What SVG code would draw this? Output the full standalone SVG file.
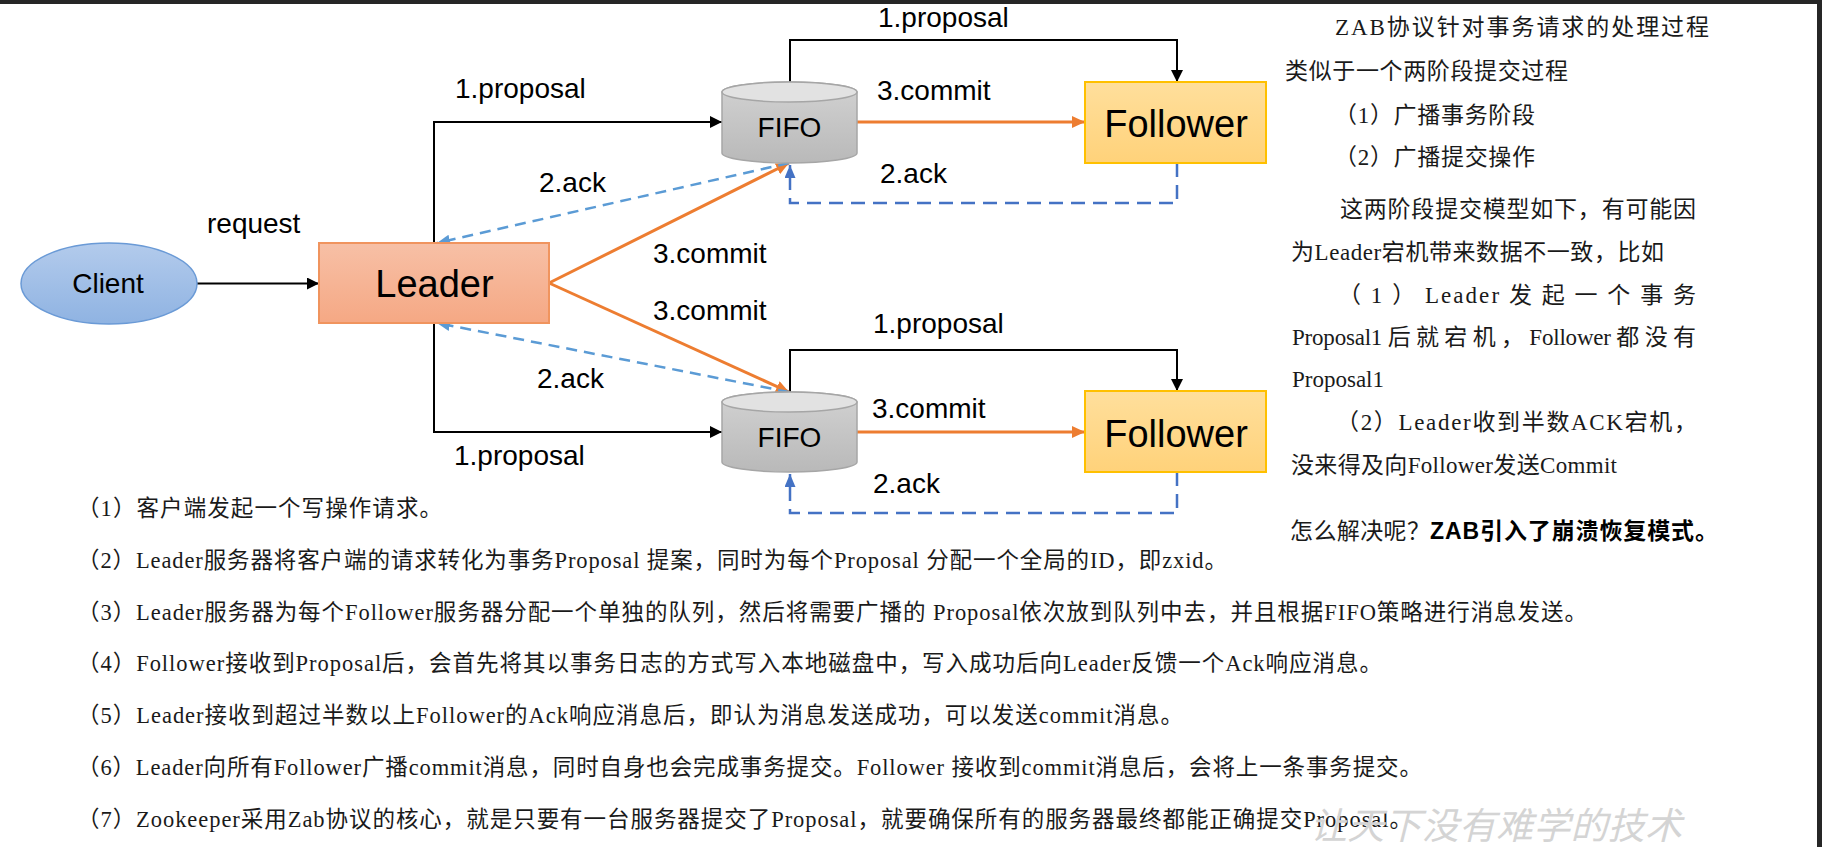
<svg xmlns="http://www.w3.org/2000/svg" width="1822" height="847" viewBox="0 0 1822 847">
<style>
.lbl{font-family:"Liberation Sans",Arial,sans-serif;font-size:28px;fill:#000}
.big{font-family:"Liberation Sans",Arial,sans-serif;font-size:38px;fill:#000}
.cn{font-family:"Liberation Serif","Noto Sans CJK SC",serif;font-size:23px;fill:#1a1a1a}
.bt{font-family:"Liberation Serif","Noto Sans CJK SC",serif;font-size:22.5px;fill:#1a1a1a}
.bold{font-family:"Liberation Sans","Noto Sans CJK SC",sans-serif;font-size:23px;font-weight:bold;fill:#000}
.blk{fill:none;stroke:#000;stroke-width:2}
.org{fill:none;stroke:#ed7d31;stroke-width:3}
.lb{fill:none;stroke:#5b9bd5;stroke-width:2.5;stroke-dasharray:11 7}
.db{fill:none;stroke:#4472c4;stroke-width:2.5;stroke-dasharray:14 8}
.cyl{fill:url(#gFifo);stroke:#a6a6a6;stroke-width:1.5}
.cylTop{fill:#e2e2e2;stroke:#a6a6a6;stroke-width:1.5}
.fol{fill:url(#gFol);stroke:#ffc000;stroke-width:2}
</style>
<defs>
<linearGradient id="gClient" x1="0" y1="0" x2="0" y2="1"><stop offset="0" stop-color="#b3cbec"/><stop offset="1" stop-color="#8fb3e2"/></linearGradient>
<linearGradient id="gLeader" x1="0" y1="0" x2="0" y2="1"><stop offset="0" stop-color="#f7c0a6"/><stop offset="1" stop-color="#f5a884"/></linearGradient>
<linearGradient id="gFol" x1="0" y1="0" x2="0" y2="1"><stop offset="0" stop-color="#ffdf9c"/><stop offset="1" stop-color="#ffd27a"/></linearGradient>
<linearGradient id="gFifo" x1="0" y1="0" x2="0" y2="1"><stop offset="0" stop-color="#d2d2d2"/><stop offset="1" stop-color="#b9b9b9"/></linearGradient>
<marker id="aBlk" viewBox="0 0 12 12" refX="12" refY="6" markerWidth="12" markerHeight="12" markerUnits="userSpaceOnUse" orient="auto"><path d="M0,0 L12,6 L0,12 Z" fill="#000"/></marker>
<marker id="aOrg" viewBox="0 0 13 12" refX="13" refY="6" markerWidth="13" markerHeight="12" markerUnits="userSpaceOnUse" orient="auto"><path d="M0,0 L13,6 L0,12 Z" fill="#ed7d31"/></marker>
<marker id="aLb" viewBox="0 0 13 11" refX="13" refY="5.5" markerWidth="13" markerHeight="11" markerUnits="userSpaceOnUse" orient="auto"><path d="M0,0 L13,5.5 L0,11 Z" fill="#5b9bd5"/></marker>
<marker id="aDb" viewBox="0 0 13 11" refX="13" refY="5.5" markerWidth="13" markerHeight="11" markerUnits="userSpaceOnUse" orient="auto"><path d="M0,0 L13,5.5 L0,11 Z" fill="#4472c4"/></marker>
</defs>
<rect x="0" y="0" width="1822" height="847" fill="#fff"/>
<rect x="0" y="0" width="1822" height="4" fill="#262626"/>
<rect x="1817" y="0" width="5" height="847" fill="#262626"/>

<g id="connectors">
<path class="blk" d="M197,283.5 L319,283.5" marker-end="url(#aBlk)"/>
<path class="blk" d="M434,243 L434,122 L722,122" marker-end="url(#aBlk)"/>
<path class="blk" d="M434,323 L434,432 L722,432" marker-end="url(#aBlk)"/>
<path class="blk" d="M790,82 L790,40 L1177,40 L1177,82" marker-end="url(#aBlk)"/>
<path class="blk" d="M790,392 L790,350 L1177,350 L1177,391" marker-end="url(#aBlk)"/>
<path class="org" d="M857,122 L1085,122" marker-end="url(#aOrg)"/>
<path class="org" d="M857,432 L1085,432" marker-end="url(#aOrg)"/>
<path class="org" d="M549,283 L789,163" marker-end="url(#aOrg)"/>
<path class="org" d="M549,283 L789,392" marker-end="url(#aOrg)"/>
<path class="lb" d="M789,163 L437,243" marker-end="url(#aLb)"/>
<path class="lb" d="M789,392 L437,323" marker-end="url(#aLb)"/>
<path class="db" d="M1177,163 L1177,203 L790,203 L790,165" marker-end="url(#aDb)"/>
<path class="db" d="M1177,472 L1177,513 L790,513 L790,474" marker-end="url(#aDb)"/>
<text class="lbl" x="207" y="233">request</text>
<text class="lbl" x="455" y="98">1.proposal</text>
<text class="lbl" x="454" y="465">1.proposal</text>
<text class="lbl" x="539" y="192">2.ack</text>
<text class="lbl" x="537" y="388">2.ack</text>
<text class="lbl" x="653" y="263">3.commit</text>
<text class="lbl" x="653" y="320">3.commit</text>
<text class="lbl" x="878" y="27">1.proposal</text>
<text class="lbl" x="877" y="100">3.commit</text>
<text class="lbl" x="880" y="183">2.ack</text>
<text class="lbl" x="873" y="333">1.proposal</text>
<text class="lbl" x="872" y="418">3.commit</text>
<text class="lbl" x="873" y="493">2.ack</text>
</g>

<g id="client">
<ellipse cx="109" cy="283.5" rx="88" ry="40.5" fill="url(#gClient)" stroke="#6a9ad6" stroke-width="1.5"/>
<text class="lbl" x="108" y="293" text-anchor="middle">Client</text>
</g>
<g id="leader">
<rect x="319" y="243" width="230" height="80" fill="url(#gLeader)" stroke="#f0945e" stroke-width="2"/>
<text class="big" x="434.5" y="297" text-anchor="middle">Leader</text>
</g>
<g id="fifo1">
<path class="cyl" d="M722,92 L722,153 A67.5,10 0 0 0 857,153 L857,92 A67.5,10 0 0 0 722,92 Z"/>
<ellipse class="cylTop" cx="789.5" cy="92" rx="67.5" ry="10"/>
<text class="lbl" x="789.5" y="137" text-anchor="middle">FIFO</text>
</g>
<g id="fifo2">
<path class="cyl" d="M722,402 L722,462 A67.5,10 0 0 0 857,462 L857,402 A67.5,10 0 0 0 722,402 Z"/>
<ellipse class="cylTop" cx="789.5" cy="402" rx="67.5" ry="10"/>
<text class="lbl" x="789.5" y="447" text-anchor="middle">FIFO</text>
</g>
<g id="follower1">
<rect class="fol" x="1085" y="82" width="181" height="81"/>
<text class="big" x="1176" y="137" text-anchor="middle">Follower</text>
</g>
<g id="follower2">
<rect class="fol" x="1085" y="391" width="181" height="81"/>
<text class="big" x="1176" y="447" text-anchor="middle">Follower</text>
</g>

<g id="notes">
<text class="cn" x="1335" y="35" textLength="374" lengthAdjust="spacing">ZAB协议针对事务请求的处理过程</text>
<text class="cn" x="1285" y="79" textLength="283" lengthAdjust="spacing">类似于一个两阶段提交过程</text>
<text class="cn" x="1334" y="123" textLength="201" lengthAdjust="spacing">（1）广播事务阶段</text>
<text class="cn" x="1334" y="165" textLength="201" lengthAdjust="spacing">（2）广播提交操作</text>
<text class="cn" x="1340" y="217" textLength="356" lengthAdjust="spacing">这两阶段提交模型如下，有可能因</text>
<text class="cn" x="1291" y="260" textLength="373" lengthAdjust="spacing">为Leader宕机带来数据不一致，比如</text>
<text class="cn" x="1338" y="303" textLength="358" lengthAdjust="spacing">（ 1 ） Leader 发 起 一 个 事 务</text>
<text class="cn" x="1292" y="345" textLength="404" lengthAdjust="spacing">Proposal1 后 就 宕 机 ， Follower 都 没 有</text>
<text class="cn" x="1292" y="387">Proposal1</text>
<text class="cn" x="1336" y="430" textLength="361" lengthAdjust="spacing">（2）Leader收到半数ACK宕机，</text>
<text class="cn" x="1291" y="473" textLength="326" lengthAdjust="spacing">没来得及向Follower发送Commit</text>
<text class="cn" x="1290" y="539" textLength="140" lengthAdjust="spacing">怎么解决呢？</text>
<text class="bold" x="1430" y="539" textLength="288" lengthAdjust="spacing">ZAB引入了崩溃恢复模式。</text>
</g>

<g id="steps">
<text class="bt" x="77" y="516" textLength="365" lengthAdjust="spacing">（1）客户端发起一个写操作请求。</text>
<text class="bt" x="77" y="568" textLength="1150" lengthAdjust="spacing">（2）Leader服务器将客户端的请求转化为事务Proposal 提案，同时为每个Proposal 分配一个全局的ID，即zxid。</text>
<text class="bt" x="77" y="620" textLength="1510" lengthAdjust="spacing">（3）Leader服务器为每个Follower服务器分配一个单独的队列，然后将需要广播的 Proposal依次放到队列中去，并且根据FIFO策略进行消息发送。</text>
<text class="bt" x="77" y="671" textLength="1305" lengthAdjust="spacing">（4）Follower接收到Proposal后，会首先将其以事务日志的方式写入本地磁盘中，写入成功后向Leader反馈一个Ack响应消息。</text>
<text class="bt" x="77" y="723" textLength="1106" lengthAdjust="spacing">（5）Leader接收到超过半数以上Follower的Ack响应消息后，即认为消息发送成功，可以发送commit消息。</text>
<text class="bt" x="77" y="775" textLength="1345" lengthAdjust="spacing">（6）Leader向所有Follower广播commit消息，同时自身也会完成事务提交。Follower 接收到commit消息后，会将上一条事务提交。</text>
<text class="bt" x="77" y="827" textLength="1335" lengthAdjust="spacing">（7）Zookeeper采用Zab协议的核心，就是只要有一台服务器提交了Proposal，就要确保所有的服务器最终都能正确提交Proposal。</text>
</g>

<text x="1310" y="839" font-family="Noto Sans CJK SC, sans-serif" font-size="37" font-style="italic" fill="#d4d4d4" textLength="372" lengthAdjust="spacing">让天下没有难学的技术</text>
</svg>
